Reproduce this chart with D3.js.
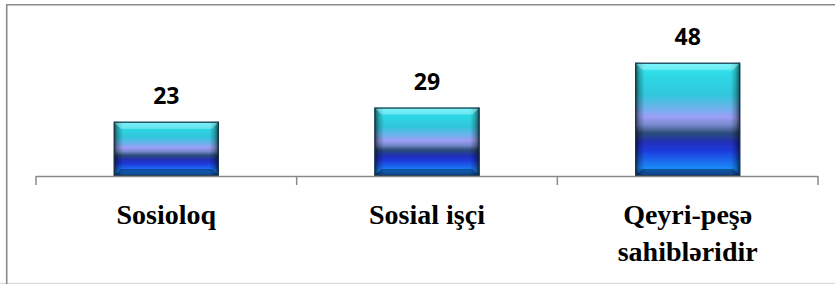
<!DOCTYPE html>
<html>
<head>
<meta charset="utf-8">
<script src="https://cdn.jsdelivr.net/npm/d3@7"></script>
<style>
  html, body { margin: 0; padding: 0; background: #fff; }
  svg { display: block; }
</style>
</head>
<body>
<div id="chart"></div>
<script>
const categories = ["Sosioloq", "Sosial işçi", "Qeyri-peşə sahibləridir"];
const values = [23, 29, 48];

const W = 835, H = 284;
const svg = d3.select("#chart").append("svg").attr("width", W).attr("height", H);

// frame
svg.append("rect").attr("x", 0).attr("y", 0).attr("width", W).attr("height", H).attr("fill", "#fff");
svg.append("line").attr("x1", 0).attr("x2", W).attr("y1", 283.5).attr("y2", 283.5).attr("stroke", "#dcdcdc").attr("stroke-width", 1.5);
svg.append("path").attr("d", `M6.7,${H} V4.7 H${W}`).attr("fill", "none").attr("stroke", "#8a8a8a").attr("stroke-width", 1.6);

const x = d3.scaleBand().domain(categories).range([36, 818]).paddingInner(0.597).paddingOuter(0.2985);
const y = d3.scaleLinear().domain([0, 50]).range([176, 58]);

const defs = svg.append("defs");
const vg = defs.append("linearGradient").attr("id", "vgrad").attr("x1", 0).attr("x2", 0).attr("y1", 0).attr("y2", 1);
[
  [0.00, "#45f2fa"], [0.10, "#2edae6"], [0.28, "#30c6dc"], [0.40, "#6cb2ec"],
  [0.48, "#9c9ef6"], [0.55, "#7688cc"], [0.62, "#2b4d78"], [0.70, "#2130b6"],
  [0.77, "#1e38da"], [0.86, "#1a66ee"], [0.93, "#1a8af6"], [1.00, "#1860c4"]
].forEach(([o, c]) => vg.append("stop").attr("offset", o).attr("stop-color", c));

const hg = defs.append("linearGradient").attr("id", "hgrad").attr("x1", 0).attr("x2", 1).attr("y1", 0).attr("y2", 0);
[
  [0.00, "#000", 0.65], [0.04, "#000", 0.25], [0.09, "#000", 0.0],
  [0.91, "#000", 0.0], [0.96, "#000", 0.25], [1.00, "#000", 0.65]
].forEach(([o, c, a]) => hg.append("stop").attr("offset", o).attr("stop-color", c).attr("stop-opacity", a));

const bars = svg.append("g").selectAll("g").data(categories.map((c, i) => ({c, v: values[i]}))).join("g");
const bev = 7;
bars.each(function(d) {
  const g = d3.select(this);
  const x0 = x(d.c), w = x.bandwidth(), y0 = y(d.v), h = y(0) - y(d.v);
  g.append("rect").attr("x", x0).attr("y", y0).attr("width", w).attr("height", h).attr("fill", "url(#vgrad)");
  g.append("rect").attr("x", x0).attr("y", y0).attr("width", w).attr("height", h).attr("fill", "url(#hgrad)");
  // top bevel (light)
  g.append("path").attr("d", `M${x0},${y0} H${x0 + w} L${x0 + w - bev},${y0 + bev} H${x0 + bev} Z`)
    .attr("fill", "#c8faff").attr("fill-opacity", 0.4);
  // bottom bevel (dark)
  g.append("path").attr("d", `M${x0},${y0 + h} H${x0 + w} L${x0 + w - bev},${y0 + h - bev} H${x0 + bev} Z`)
    .attr("fill", "#001030").attr("fill-opacity", 0.4);
  g.append("rect").attr("x", x0 + 0.5).attr("y", y0 + 0.5).attr("width", w - 1).attr("height", h - 1)
    .attr("fill", "none").attr("stroke", "#1b3346").attr("stroke-width", 1.2);
});

// value labels
svg.append("g").selectAll("text").data(categories.map((c, i) => ({c, v: values[i]}))).join("text")
  .attr("x", d => x(d.c) + x.bandwidth() / 2)
  .attr("y", d => y(d.v) - 17.5)
  .attr("text-anchor", "middle")
  .attr("font-family", "'Open Sans', sans-serif")
  .attr("font-weight", "bold")
  .attr("font-size", 23)
  .attr("fill", "#000")
  .text(d => d.v);

// axis line and boundary ticks
const axisG = svg.append("g");
const r = x.range();
axisG.append("line").attr("x1", r[0]).attr("x2", r[1]).attr("y1", y(0) + 0.5).attr("y2", y(0) + 0.5)
  .attr("stroke", "#8a8a8a").attr("stroke-width", 1.5);
const bounds = d3.range(categories.length + 1).map(i => r[0] + i * x.step());
axisG.selectAll("line.tick").data(bounds).join("line").attr("class", "tick")
  .attr("x1", d => d).attr("x2", d => d).attr("y1", y(0)).attr("y2", y(0) + 9)
  .attr("stroke", "#8a8a8a").attr("stroke-width", 1.5);

// category labels
const labels = svg.append("g").selectAll("text").data(categories).join("text")
  .attr("x", d => x(d) + x.bandwidth() / 2)
  .attr("y", 224)
  .attr("text-anchor", "middle")
  .attr("font-family", "'Liberation Serif', serif")
  .attr("font-weight", "bold")
  .attr("font-size", 28)
  .attr("fill", "#000");
labels.each(function(d) {
  const t = d3.select(this);
  const words = d.split(" ");
  let line = [], lines = [];
  const tmp = t.append("tspan");
  words.forEach(wd => {
    const test = line.concat(wd).join(" ");
    tmp.text(test);
    if (tmp.node().getComputedTextLength() > 200 && line.length) {
      lines.push(line.join(" "));
      line = [wd];
    } else line.push(wd);
  });
  lines.push(line.join(" "));
  tmp.remove();
  lines.forEach((ln, i) => {
    t.append("tspan").attr("x", x(d) + x.bandwidth() / 2).attr("dy", i === 0 ? 0 : 37).text(ln);
  });
});
</script>
</body>
</html>
